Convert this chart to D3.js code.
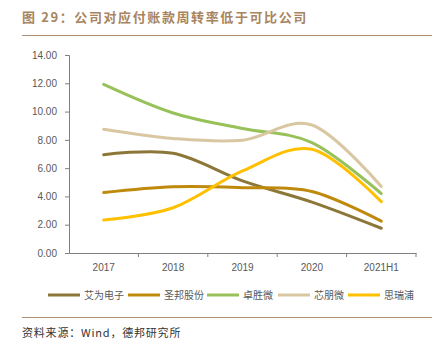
<!DOCTYPE html>
<html>
<head>
<meta charset="utf-8">
<script src="https://cdn.jsdelivr.net/npm/d3@7"></script>
<style>
  body { margin: 0; background: #fff; }
  svg { font-family: "Liberation Sans", "Noto Sans CJK SC", sans-serif; }
</style>
</head>
<body>
<div id="chart"></div>
<script>
// data
var years = ["2017", "2018", "2019", "2020", "2021H1"];
var seriesNames = ["艾为电子", "圣邦股份", "卓胜微", "芯朋微", "思瑞浦"];
var aiwei = [6.95, 7.05, 5.1, 3.6, 1.75];
var shengbang = [4.27, 4.68, 4.62, 4.35, 2.25];
var zhuoshengwei = [11.92, 9.9, 8.8, 7.8, 4.2];
var xinpengwei = [8.75, 8.1, 7.98, 9.05, 4.7];
var sirui = [2.33, 3.2, 5.8, 7.33, 3.63];
var yTicks = [0, 2, 4, 6, 8, 10, 12, 14];

var colors = ["#8c7738", "#bf8a0c", "#98c15a", "#d9c7a2", "#ffc000"];
var allSeries = [aiwei, shengbang, zhuoshengwei, xinpengwei, sirui];

var svg = d3.select("#chart")
  .append("svg")
  .attr("width", 442)
  .attr("height", 350);

// title + rule
svg.append("text")
  .attr("x", 22)
  .attr("y", 22)
  .style("font-family", "'Noto Sans CJK SC', sans-serif")
  .style("font-size", "13px")
  .style("font-weight", "bold")
  .style("letter-spacing", "1.6px")
  .attr("fill", "#a8845f")
  .text("图 29：公司对应付账款周转率低于可比公司");
svg.append("line")
  .attr("x1", 22).attr("x2", 432)
  .attr("y1", 35.5).attr("y2", 35.5)
  .attr("stroke", "#b08f72").attr("stroke-width", 1.2);

var margin = { top: 55, left: 69 },
  width = 347,
  height = 198;

var g = svg.append("g")
  .attr("transform", "translate(" + margin.left + "," + margin.top + ")");

var x = d3.scaleBand()
  .domain(years)
  .range([0, width]);

var y = d3.scaleLinear()
  .domain([0, 14])
  .range([height, 0]);

// y axis
var yAxis = g.append("g")
  .call(d3.axisLeft(y).tickValues(yTicks).tickSize(4).tickFormat(d3.format(".2f")));
yAxis.select(".domain").attr("stroke", "#808080");
yAxis.selectAll(".tick line").attr("stroke", "#808080");
yAxis.selectAll("text")
  .attr("x", -12)
  .attr("fill", "#595959")
  .style("font-size", "10px");

// x axis, ticks at band edges
var xAxis = g.append("g")
  .attr("transform", "translate(0," + height + ")")
  .call(d3.axisBottom(x).tickSize(0).tickPadding(11));
xAxis.select(".domain").attr("stroke", "#808080");
xAxis.selectAll("text")
  .attr("fill", "#595959")
  .style("font-size", "10px");
var edges = years.map(function (d) { return x(d); }).concat([width]);
g.selectAll("xedge")
  .data(edges.slice(1))
  .enter()
  .append("line")
  .attr("x1", function (d) { return d; })
  .attr("x2", function (d) { return d; })
  .attr("y1", height)
  .attr("y2", height + 4)
  .attr("stroke", "#808080");

// lines
var line = d3.line()
  .x(function (d, i) { return x(years[i]) + x.bandwidth() / 2; })
  .y(function (d) { return y(d); })
  .curve(d3.curveCatmullRom.alpha(0));

g.selectAll("series")
  .data(allSeries)
  .enter()
  .append("path")
  .attr("d", function (d) { return line(d); })
  .attr("fill", "none")
  .attr("stroke", function (d, i) { return colors[i]; })
  .attr("stroke-width", 3)
  .attr("stroke-linecap", "round");

// legend
var legendX = [48, 128, 207, 278, 348];
var legend = svg.selectAll("legend")
  .data(seriesNames)
  .enter()
  .append("g")
  .attr("transform", function (d, i) { return "translate(" + legendX[i] + ",295)"; });
legend.append("line")
  .attr("x1", 0).attr("x2", 32)
  .attr("y1", 0).attr("y2", 0)
  .attr("stroke", function (d, i) { return colors[i]; })
  .attr("stroke-width", 3);
legend.append("text")
  .attr("x", 36)
  .attr("y", 4)
  .style("font-family", "'Noto Sans CJK SC', sans-serif")
  .style("font-size", "10px")
  .attr("fill", "#595959")
  .text(function (d) { return d; });

// bottom rule + source
svg.append("line")
  .attr("x1", 22).attr("x2", 432)
  .attr("y1", 317.5).attr("y2", 317.5)
  .attr("stroke", "#b08f72").attr("stroke-width", 1.2);
svg.append("text")
  .attr("x", 22)
  .attr("y", 337)
  .style("font-family", "'Noto Sans CJK SC', sans-serif")
  .style("font-size", "11px")
  .style("letter-spacing", "0.8px")
  .attr("fill", "#333")
  .text("资料来源：Wind，德邦研究所");
</script>
</body>
</html>
